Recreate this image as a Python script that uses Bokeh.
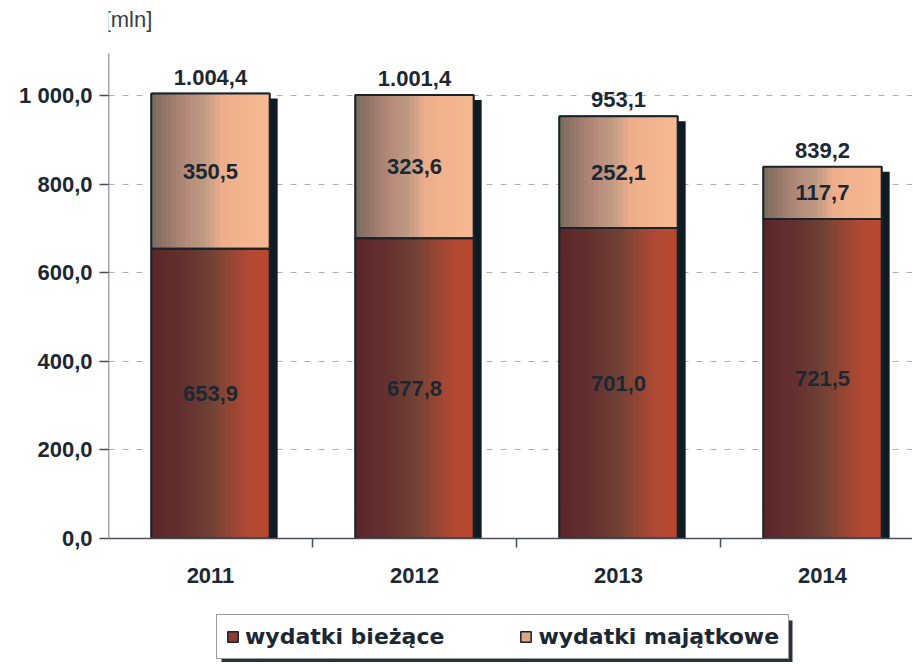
from bokeh.plotting import figure
from bokeh.layouts import column
from bokeh.models import ColumnDataSource, FixedTicker, Label, Legend, LegendItem, Range1d
from bokeh.core.properties import value
from bokeh.embed import file_html
from bokeh.resources import INLINE

# ---- data ----
years = ["2011", "2012", "2013", "2014"]
biezace = [653.9, 677.8, 701.0, 721.5]      # wydatki bieżące
majatkowe = [350.5, 323.6, 252.1, 117.7]    # wydatki majątkowe
y_ticks = [0, 200, 400, 600, 800, 1000]
y_tick_labels = ["0,0", "200,0", "400,0", "600,0", "800,0", "1 000,0"]
series_names = ["wydatki bieżące", "wydatki majątkowe"]
unit_label = "[mln]"


def fmt(v, thousands="."):
    s = f"{v:,.1f}"
    s = s.replace(",", "#").replace(".", ",").replace("#", thousands)
    return s


TEXT = "#1b2833"
AXIS = "#4a4d5a"
xs = [i + 1 for i in range(len(years))]
totals = [a + b for a, b in zip(biezace, majatkowe)]
BW = 0.58          # bar width (category units)
PX = 1 / 204.0     # one pixel in x units
PY = 1 / 0.443     # one pixel in y units

W, H = 912, 600
LEFT, BOTTOM = 108, H - 538
p = figure(width=W, height=H, output_backend="svg", toolbar_location=None,
           x_range=Range1d(0.5, 0.5 + (W - LEFT) * PX), y_range=Range1d(0, 538 * PY),
           min_border_left=LEFT, min_border_right=0, min_border_top=0, min_border_bottom=BOTTOM)
p.outline_line_color = None
p.background_fill_color = "white"
p.border_fill_color = "white"

# grid
p.xgrid.visible = False
p.ygrid.ticker = FixedTicker(ticks=y_ticks[1:])
p.ygrid.grid_line_color = "#b8a6c0"
p.ygrid.grid_line_dash = "6 8"
p.ygrid.grid_line_width = 1.2

# y axis
p.yaxis.ticker = FixedTicker(ticks=y_ticks)
p.yaxis.major_label_overrides = {t: l for t, l in zip(y_ticks, y_tick_labels)}
p.yaxis.major_label_text_font = "Liberation Sans"
p.yaxis.major_label_text_font_style = "bold"
p.yaxis.major_label_text_font_size = "22px"
p.yaxis.major_label_text_color = TEXT
p.yaxis.axis_line_color = None
p.yaxis.major_tick_line_color = AXIS
p.yaxis.major_tick_line_width = 1.5
p.yaxis.major_tick_out = 9
p.yaxis.major_tick_in = 0
p.yaxis.minor_tick_line_color = None
p.yaxis.major_label_standoff = 7
# visible y-axis line stops below the unit label
p.segment(x0=[0.5], y0=[0], x1=[0.5], y1=[(538 - 53) * PY], line_color=AXIS, line_width=1.5)

# x axis
p.xaxis.ticker = FixedTicker(ticks=xs, minor_ticks=[x + 0.5 for x in xs[:-1]])
p.xaxis.major_label_overrides = {x: y for x, y in zip(xs, years)}
p.xaxis.major_label_text_font = "Liberation Sans"
p.xaxis.major_label_text_font_style = "bold"
p.xaxis.major_label_text_font_size = "22px"
p.xaxis.major_label_text_color = TEXT
p.xaxis.axis_line_color = AXIS
p.xaxis.axis_line_width = 1.5
p.xaxis.major_tick_line_color = None
p.xaxis.minor_tick_line_color = AXIS
p.xaxis.minor_tick_line_width = 1.5
p.xaxis.minor_tick_out = 9
p.xaxis.minor_tick_in = 0
p.xaxis.major_label_standoff = 20

# shadows on the right side of bars
shadow = ColumnDataSource(dict(x=[x + BW / 2 + 4 * PX for x in xs],
                               top=[t - 5 * PY for t in totals]))
p.vbar(x="x", top="top", bottom=0, width=8 * PX, source=shadow,
       fill_color="#0f1b22", line_color=None)

src = ColumnDataSource(dict(x=xs, b=biezace, t=totals))
p.vbar(x="x", top="b", bottom=0, width=BW, source=src,
       fill_color="#8a3d30", line_color="#17242c", line_width=1.5)
p.vbar(x="x", top="t", bottom="b", width=BW, source=src,
       fill_color="#d99a80", line_color="#17242c", line_width=1.5)


def lerp_color(stops, f):
    for (f0, c0), (f1, c1) in zip(stops[:-1], stops[1:]):
        if f0 <= f <= f1:
            r = (f - f0) / (f1 - f0) if f1 > f0 else 0
            a = [int(c0[i:i + 2], 16) for i in (1, 3, 5)]
            b = [int(c1[i:i + 2], 16) for i in (1, 3, 5)]
            return "#%02x%02x%02x" % tuple(int(round(a[k] + (b[k] - a[k]) * r)) for k in range(3))
    return stops[-1][1]


stops_b = [(0, "#5a2628"), (0.3, "#663230"), (0.5, "#6f4134"), (0.7, "#9a4634"), (0.85, "#b44a33"), (1, "#b9472f")]
stops_m = [(0, "#7a6c5c"), (0.15, "#9a786c"), (0.3, "#b58a7a"), (0.45, "#bf9a82"), (0.6, "#eeae8c"), (1, "#f8ba92")]

N = 24
for i in range(N):
    f = (i + 0.5) / N
    off = -BW / 2 + (i + 0.5) * BW / N
    s = ColumnDataSource(dict(x=[x + off for x in xs], b=biezace, t=totals))
    p.vbar(x="x", top="b", bottom=0, width=BW / N * 1.15, source=s,
           fill_color=lerp_color(stops_b, f), line_color=None)
    p.vbar(x="x", top="t", bottom="b", width=BW / N * 1.15, source=s,
           fill_color=lerp_color(stops_m, f), line_color=None)

# outlines
p.vbar(x="x", top="b", bottom=0, width=BW, source=src,
       fill_color=None, line_color="#17242c", line_width=2)
p.vbar(x="x", top="t", bottom="b", width=BW, source=src,
       fill_color=None, line_color="#17242c", line_width=2)

# value labels
lab = ColumnDataSource(dict(
    x=xs,
    yb=[b / 2 for b in biezace],
    ym=[b + m / 2 for b, m in zip(biezace, majatkowe)],
    yt=totals,
    lb=[fmt(v) for v in biezace],
    lm=[fmt(v) for v in majatkowe],
    lt=[fmt(v) for v in totals],
))
common = dict(text_font=value("Liberation Sans"), text_font_style="bold", text_font_size="22px",
              text_color=TEXT, text_align="center")
p.text(x="x", y="yb", text="lb", source=lab, text_baseline="middle", **common)
p.text(x="x", y="ym", text="lm", source=lab, text_baseline="middle", **common)
p.text(x="x", y="yt", text="lt", source=lab, text_baseline="bottom", y_offset=-9, **common)

# unit label
p.add_layout(Label(x=0.5 + 20 * PX, y=(538 - 31) * PY, text=unit_label, text_align="center",
                   text_baseline="bottom", text_font="Liberation Sans", text_font_size="22px",
                   text_color="#3a3d4a"))

# ---- legend strip (separate figure below the chart; frame aligned with chart's) ----
LH = 62
FW = W - LEFT
q = figure(width=W, height=LH, output_backend="svg", toolbar_location=None,
           x_range=Range1d(0, FW), y_range=Range1d(0, LH),
           min_border_left=LEFT, min_border_right=0, min_border_top=0, min_border_bottom=0)
q.axis.visible = False
q.grid.visible = False
q.outline_line_color = None
q.background_fill_color = "white"
q.border_fill_color = "white"

LX, LY, LW, LHB = 216 - LEFT, 3, 571, 44
# legend drop shadow
q.quad(left=[LX + 5], right=[LX + LW + 5], bottom=[LY - 4], top=[LY + LHB - 5],
       fill_color="#2a3138", line_color=None)
# legend proxies (hidden behind the legend box)
lg_b = q.vbar(x=[LX + 40], top=[LY + 20], bottom=[LY + 15], width=2,
              fill_color="#8a3d30", line_color="#17242c", line_width=1.5)
lg_m = q.vbar(x=[LX + 40], top=[LY + 20], bottom=[LY + 15], width=2,
              fill_color="#e0a486", line_color="#17242c", line_width=1.5)

legend = Legend(items=[LegendItem(label=series_names[0], renderers=[lg_b]),
                       LegendItem(label=series_names[1], renderers=[lg_m])],
                orientation="horizontal", location=(LX, LY),
                label_text_font="DejaVu Sans", label_text_font_style="bold",
                label_text_font_size="22px", label_text_color=TEXT,
                glyph_width=13, glyph_height=13, label_standoff=6, spacing=75,
                padding=9, margin=0,
                border_line_color="#333840", border_line_width=1.5,
                background_fill_color="white", background_fill_alpha=1)
q.add_layout(legend)

layout = column(p, q, spacing=0)
open("out.html", "w").write(file_html(layout, INLINE))
